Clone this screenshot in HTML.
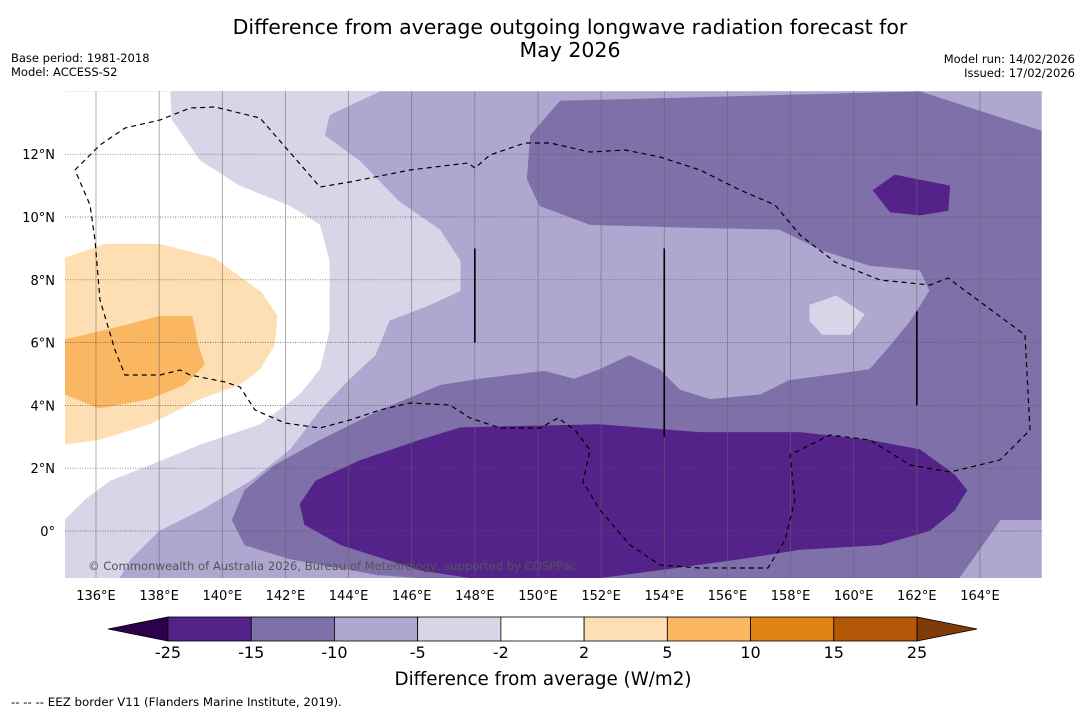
<!DOCTYPE html>
<html><head><meta charset="utf-8"><style>
body{margin:0;background:#fff;width:1085px;height:713px;overflow:hidden;font-family:"DejaVu Sans","Liberation Sans",sans-serif}
svg text{font-family:"DejaVu Sans","Liberation Sans",sans-serif}
</style></head><body>
<svg id="c" width="1085" height="713">
<text x="570" y="34" text-anchor="middle" font-size="20.5">Difference from average outgoing longwave radiation forecast for</text>
<text x="570" y="57" text-anchor="middle" font-size="20.5">May 2026</text>
<text x="11" y="62" font-size="11.5">Base period: 1981-2018</text>
<text x="11" y="76" font-size="11.5">Model: ACCESS-S2</text>
<text x="1075" y="63" text-anchor="end" font-size="11.5">Model run: 14/02/2026</text>
<text x="1075" y="77" text-anchor="end" font-size="11.5">Issued: 17/02/2026</text>
<clipPath id="mc"><rect x="65" y="91" width="977" height="487"/></clipPath>
<g id="map" clip-path="url(#mc)"></g>
<g id="ax"></g>
<g id="cb"></g>
<text x="543" y="685" text-anchor="middle" font-size="18.3">Difference from average (W/m2)</text>
<text x="11" y="706" font-size="11.8">--  --  -- EEZ border V11 (Flanders Marine Institute, 2019).</text>
</svg>
<script>
const lonTicks=[136,138,140,142,144,146,148,150,152,154,156,158,160,162,164];
const latTicks=[0,2,4,6,8,10,12];
const levels=[-25,-15,-10,-5,-2,2,5,10,15,25];
const levelColors=['#54238a','#7f70aa','#aea7cf','#d7d6e9','#ffffff','#fddfb3','#fbb661','#e08214','#b35806'];
const whiteLon=[135,138.35,138.4,139.3,140.55,142.15,143.1,143.4,143.4,143.1,142.45,141.2,139.3,137.7,136.45,135.65,135];
const whiteLat=[14,14,13.1,11.8,11.0,10.35,9.75,8.6,6.4,5.15,4.35,3.4,2.75,2.1,1.6,1.0,0.35];
const blobLon=[147.6,148.15,149.1,149.6,149.1,148.15,147.6];
const blobLat=[7.55,7.7,7.7,7.55,7.4,7.35,7.5];
const orLon=[135,136.3,138.0,139.75,141.25,141.75,141.65,141.2,140.55,139.3,137.7,136.1,135];
const orLat=[8.7,9.15,9.15,8.7,7.6,6.85,5.9,5.15,4.65,4.2,3.4,2.9,2.75];
const or2Lon=[135,136.9,138.0,139.05,139.25,139.45,138.8,137.7,136.1,135];
const or2Lat=[6.1,6.55,6.85,6.85,5.9,5.3,4.65,4.2,3.9,4.35];
const m10Lon=[145,143.4,143.25,144.35,145.6,146.9,147.55,147.55,146.6,145.3,144.85,144.05,143.1,142.15,140.9,139.3,138.0,137.1,136.75,165.95,165.95];
const m10Lat=[14,13.25,12.6,11.8,10.5,9.6,8.6,7.65,7.2,6.7,5.6,4.85,3.85,2.6,1.6,0.65,0.0,-0.9,-1.5,-1.5,14];
const isleLon=[158.6,159.45,160.35,159.9,159.0,158.6];
const isleLat=[7.2,7.5,6.9,6.25,6.25,6.7];
const m15Lon=[150.7,149.75,149.65,150.05,151.65,155.1,157.65,158.95,160.5,162.1,162.4,161.8,161.15,160.5,157.95,157.05,155.45,154.5,153.85,152.9,151.95,151.15,150.2,148.15,146.9,145.0,143.1,141.65,140.7,140.3,140.7,142.15,144.9,146.25,163.35,164.65,165.95,165.95,162.1];
const m15Lat=[13.7,12.6,11.2,10.35,9.75,9.65,9.6,8.95,8.45,8.3,7.65,6.7,5.9,5.15,4.8,4.35,4.2,4.5,5.15,5.6,5.15,4.85,5.1,4.85,4.65,3.85,2.9,2.1,1.3,0.35,-0.45,-0.9,-1.4,-1.5,-1.5,0.35,0.35,12.75,14];
const m25Lon=[142.45,142.95,144.35,146.25,147.55,151.95,155.1,158.3,160.5,162.1,163.2,163.6,163.2,162.4,160.85,158.3,156.4,153.85,151.95,147.85,146.25,143.75,142.6];
const m25Lat=[0.85,1.6,2.25,2.9,3.3,3.4,3.15,3.15,2.9,2.6,1.8,1.3,0.65,0.0,-0.45,-0.6,-0.9,-1.25,-1.5,-1.5,-1.25,-0.45,0.2];
const m25bLon=[160.6,161.3,163.05,163.0,162.1,161.15];
const m25bLat=[10.85,11.35,11.0,10.2,10.05,10.15];
const regions=[[4,whiteLon,whiteLat],[4,blobLon,blobLat],[5,orLon,orLat],[6,or2Lon,or2Lat],[2,m10Lon,m10Lat],[3,isleLon,isleLat],[1,m15Lon,m15Lat],[0,m25Lon,m25Lat],[0,m25bLon,m25bLat]];
const NS='http://www.w3.org/2000/svg';
const X=lon=>96+(lon-136)*31.57, Y=lat=>531-lat*31.4;
const map=document.getElementById('map'),ax=document.getElementById('ax'),cb=document.getElementById('cb');
function mk(tag,attrs,parent){const e=document.createElementNS(NS,tag);for(const k in attrs)e.setAttribute(k,attrs[k]);parent.appendChild(e);return e;}
const bg=mk('rect',{x:65,y:91,width:977,height:487,fill:levelColors[3]},map);


regions.forEach((r,i)=>{
  const pts=r[1].map((lo,j)=>X(lo).toFixed(1)+','+Y(r[2][j]).toFixed(1)).join(' ');
  const p=mk('polygon',{points:pts,fill:levelColors[r[0]]},map);
  
  
});
lonTicks.forEach(lo=>{
  const l=mk('line',{x1:X(lo),x2:X(lo),y1:91,y2:578,stroke:'#666','stroke-width':0.7,'stroke-opacity':0.75},map);
  
  
  const t=mk('text',{x:X(lo),y:600,'text-anchor':'middle','font-size':13},ax);t.textContent=lo+'°E';
  
  
});
latTicks.forEach(la=>{
  const l=mk('line',{x1:65,x2:1042,y1:Y(la),y2:Y(la),stroke:'#555','stroke-width':0.7,'stroke-dasharray':'1,1.5'},map);
  
  
  const t=mk('text',{x:55,y:Y(la)+5,'text-anchor':'end','font-size':13},ax);t.textContent=la===0?'0°':la+'°N';
  
  
});
const vLon=[148,154,162],vTop=[9,9,7],vBot=[6,3,4];
vLon.forEach((lo,i)=>{const l=mk('line',{x1:X(lo),x2:X(lo),y1:Y(vTop[i]),y2:Y(vBot[i]),stroke:'#000','stroke-width':1.6},map);
  
  });
const eez=mk('polyline',{points:'75,170 100,145 125,128 160,120 190,108 215,107 260,118 320,187 350,182 410,170 468,163 475,168 490,155 525,143 550,143 590,152 625,150 660,157 700,170 740,190 775,205 800,235 835,262 880,280 930,285 948,278 1025,335 1030,430 1000,460 950,472 910,465 870,440 830,435 790,455 795,500 785,540 768,568 700,568 660,565 630,545 600,510 583,482 590,450 575,430 558,418 540,428 500,428 470,418 450,405 410,403 380,410 350,420 320,428 285,423 255,410 240,387 225,382 190,375 180,370 160,375 125,375 115,350 100,300 95,240 90,205 75,170',fill:'none',stroke:'#000','stroke-width':1.2,'stroke-dasharray':'5,4'},map);


const cp=mk('text',{x:88,y:570,'font-size':11.6,fill:'#555'},map);cp.textContent='© Commonwealth of Australia 2026, Bureau of Meteorology, supported by COSPPac';


const cbX0=168,cbX1=917,cbY=617,cbH=24,seg=(cbX1-cbX0)/levelColors.length;
const lt=mk('polygon',{points:`108,${cbY+cbH/2} ${cbX0},${cbY} ${cbX0},${cbY+cbH}`,fill:'#2d004b',stroke:'#000','stroke-width':0.8},cb);


const rt=mk('polygon',{points:`977,${cbY+cbH/2} ${cbX1},${cbY} ${cbX1},${cbY+cbH}`,fill:'#7f3b08',stroke:'#000','stroke-width':0.8},cb);


levelColors.forEach((c,i)=>{const r=mk('rect',{x:cbX0+i*seg,y:cbY,width:seg,height:cbH,fill:c,stroke:'#000','stroke-width':0.8},cb);
  
  });
levels.forEach((v,i)=>{const t=mk('text',{x:cbX0+i*seg,y:658,'text-anchor':'middle','font-size':16},cb);t.textContent=v;
  
  });
</script>
</body></html>
